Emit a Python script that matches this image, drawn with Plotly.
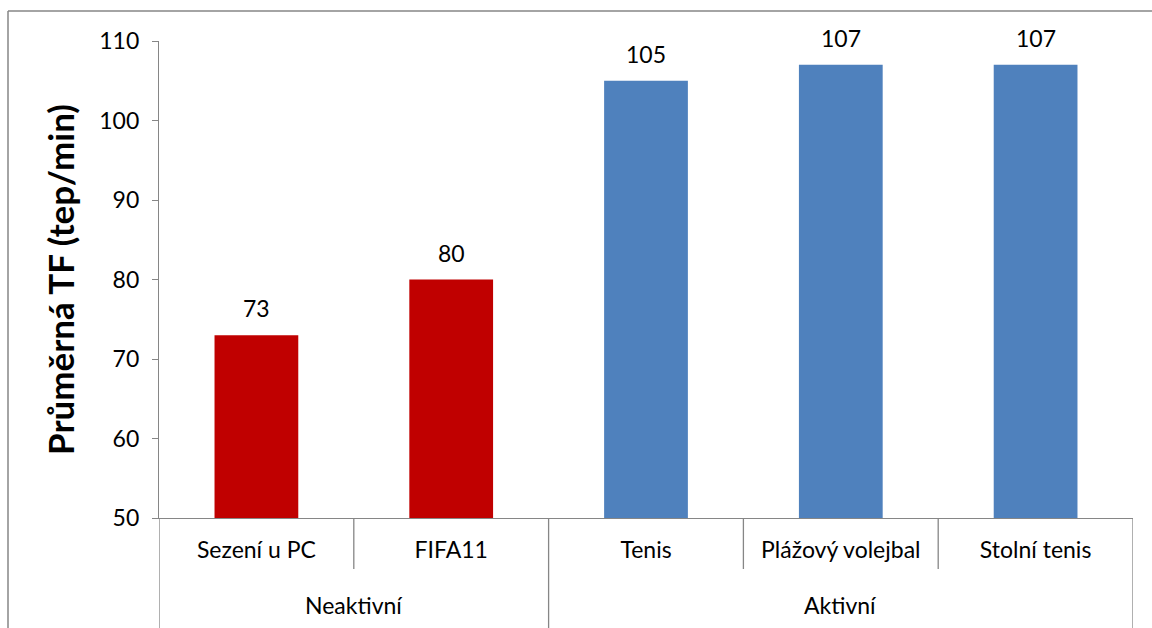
import plotly.graph_objects as go

# Average heart rate per activity, grouped by activity type
groups = ["Neaktivní", "Neaktivní", "Aktivní", "Aktivní", "Aktivní"]
activities = ["Sezení u PC", "FIFA11", "Tenis", "Plážový volejbal", "Stolní tenis"]
heart_rate = [73, 80, 105, 107, 107]

group_colors = {"Neaktivní": "#C00000", "Aktivní": "#4F81BD"}
axis_gray = "#868686"
font_family = "Lato, 'Open Sans', sans-serif"
label_size = 23

fig = go.Figure(
    go.Bar(
        x=activities,
        y=heart_rate,
        marker=dict(color=[group_colors[g] for g in groups], line=dict(width=0)),
        hoverinfo="skip",
    )
)

plot_h = 477  # plot-area height in px, used to convert px offsets to paper units

annotations = []
# Value labels above each bar
for a, v in zip(activities, heart_rate):
    annotations.append(dict(
        x=a, y=v, xref="x", yref="y",
        text=str(v), showarrow=False,
        yshift=27, yanchor="middle", xanchor="center",
        font=dict(size=label_size, color="#000000", family=font_family),
    ))

# Boundaries between categories: short ticks inside a group, tall lines between groups
shapes = []
n = len(activities)
for b in range(n + 1):
    is_group_edge = b == 0 or b == n or groups[b - 1] != groups[b]
    depth = 112 if is_group_edge else 51
    shapes.append(dict(
        type="line", xref="x", yref="paper",
        x0=b - 0.5, x1=b - 0.5, y0=0, y1=-depth / plot_h,
        line=dict(color=axis_gray, width=1.3),
    ))

# Outer chart frame
shapes.append(dict(
    type="line", xref="paper", yref="paper",
    x0=-151 / 974, x1=1.1, y0=507 / plot_h, y1=507 / plot_h,
    line=dict(color=axis_gray, width=1.5),
))
shapes.append(dict(
    type="line", xref="paper", yref="paper",
    x0=-151 / 974, x1=-151 / 974, y0=507 / plot_h, y1=-0.3,
    line=dict(color=axis_gray, width=1.5),
))

# Group labels under the activity labels
seen = []
for g in groups:
    if g not in seen:
        seen.append(g)
for g in seen:
    idx = [i for i, gg in enumerate(groups) if gg == g]
    annotations.append(dict(
        x=(idx[0] + idx[-1]) / 2, xref="x",
        y=-87 / plot_h, yref="paper",
        text=g, showarrow=False,
        font=dict(size=label_size, color="#000000", family=font_family),
        xanchor="center", yanchor="middle",
    ))

fig.update_layout(
    width=1152, height=628,
    margin=dict(l=159, r=19, t=41, b=110),
    paper_bgcolor="white", plot_bgcolor="white",
    bargap=0.57,
    showlegend=False,
    shapes=shapes,
    annotations=annotations,
    xaxis=dict(
        type="category",
        showline=True, linecolor=axis_gray, linewidth=1.3,
        ticks="", showgrid=False,
        tickfont=dict(size=label_size, color="#000000", family=font_family),
        ticklabelstandoff=11,
        range=[-0.5, n - 0.5],
    ),
    yaxis=dict(
        range=[50, 110],
        tickvals=[50, 60, 70, 80, 90, 100, 110],
        showline=True, linecolor=axis_gray, linewidth=1.3,
        ticks="outside", ticklen=6, tickcolor=axis_gray, tickwidth=1.3,
        showgrid=False, zeroline=False,
        tickfont=dict(size=label_size, color="#000000", family=font_family),
        ticklabelstandoff=8,
        title=dict(
            text="<b>Průměrná TF (tep/min)</b>",
            font=dict(size=35, color="#000000", family=font_family),
            standoff=13,
        ),
    ),
)

fig.write_html("out.html")
